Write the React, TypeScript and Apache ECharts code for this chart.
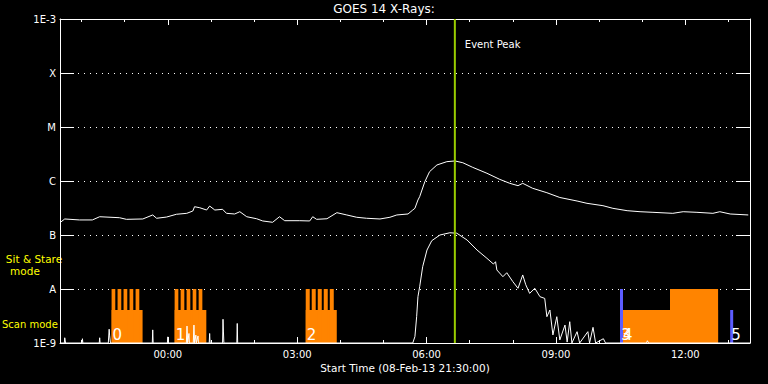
import React, { useEffect, useRef } from "react";
import * as echarts from "echarts";

// x values: hours relative to 09-Feb-13 00:00 (negative = 08-Feb)
const xMin = -2.5;
const xMax = 13.5;
const majorTicks = [0, 3, 6, 9, 12];
const minorTicks = [-2, -1, 0, 1, 2, 3, 4, 5, 6, 7, 8, 9, 10, 11, 12, 13];
const yLevelLabels: Record<number, string> = { [-9]: "1E-9", [-8]: "A", [-7]: "B", [-6]: "C", [-5]: "M", [-4]: "X", [-3]: "1E-3" };

// GOES 14 long channel (1-8 A), W/m^2
const longChannel: [number, number][] = [
  [-2.49, 1.72e-7], [-2.39, 1.98e-7], [-2.05, 1.9e-7], [-1.75, 1.9e-7], [-1.58, 2.18e-7],
  [-1.12, 2.09e-7], [-0.96, 1.95e-7], [-0.58, 1.98e-7], [-0.35, 2.35e-7], [-0.26, 2.04e-7],
  [-0.03, 2.15e-7], [0.2, 2.42e-7], [0.44, 2.52e-7], [0.58, 2.78e-7], [0.62, 3.34e-7],
  [0.74, 3.2e-7], [0.9, 2.9e-7], [0.97, 3.44e-7], [1.09, 2.9e-7], [1.27, 2.99e-7],
  [1.36, 2.52e-7], [1.55, 2.45e-7], [1.67, 2.7e-7], [1.83, 2.18e-7], [2.06, 2.0e-7],
  [2.2, 1.82e-7], [2.43, 1.72e-7], [2.59, 2.18e-7], [2.71, 1.84e-7], [3.06, 1.84e-7],
  [3.29, 1.82e-7], [3.36, 2.18e-7], [3.45, 1.95e-7], [3.69, 2.0e-7], [3.92, 2.59e-7],
  [4.15, 2.35e-7], [4.38, 2.13e-7], [4.61, 2.04e-7], [4.92, 1.98e-7], [5.15, 2.13e-7],
  [5.31, 2.35e-7], [5.57, 2.45e-7], [5.68, 2.9e-7], [5.73, 3.12e-7], [5.8, 4.45e-7],
  [5.84, 5.12e-7], [5.96, 9.7e-7], [6.07, 1.49e-6], [6.24, 1.98e-6], [6.47, 2.28e-6],
  [6.66, 2.35e-6], [6.84, 2.18e-6], [7.07, 1.79e-6], [7.4, 1.39e-6], [7.7, 1.07e-6],
  [7.93, 9.06e-7], [8.12, 8.19e-7], [8.23, 9.06e-7], [8.46, 7.33e-7], [8.79, 6.07e-7],
  [9.09, 4.95e-7], [9.49, 4.26e-7], [9.72, 3.86e-7], [10.09, 3.49e-7], [10.32, 3.12e-7],
  [10.65, 2.82e-7], [10.95, 2.7e-7], [11.25, 2.63e-7], [11.71, 2.52e-7], [11.95, 2.7e-7],
  [12.27, 2.63e-7], [12.64, 2.52e-7], [12.8, 2.7e-7], [13.04, 2.45e-7], [13.46, 2.35e-7],
];

// GOES 14 short channel (0.5-4 A), W/m^2
const shortChannel: [number, number][] = [
  [-2.5, 1e-9], [-2.4, 1e-9], [-2.39, 1.25e-9], [-2.37, 1e-9], [-1.99, 1e-9], [-1.98, 1.2e-9],
  [-1.97, 1e-9], [-1.59, 1e-9], [-1.58, 1.25e-9], [-1.57, 1e-9], [-1.38, 1e-9], [-1.36, 1.8e-9],
  [-1.35, 1.4e-9], [-1.33, 1e-9], [-0.36, 1e-9], [-0.35, 1.75e-9], [-0.34, 1e-9], [-0.01, 1e-9],
  [0.0, 1.3e-9], [0.01, 1e-9], [0.43, 1e-9], [0.445, 2.06e-9], [0.46, 1e-9], [0.49, 1.5e-9],
  [0.5, 1e-9], [0.59, 1e-9], [0.606, 2.15e-9], [0.62, 1e-9], [0.65, 1.4e-9], [0.66, 1e-9],
  [0.7, 1.35e-9], [0.71, 1e-9], [0.96, 1e-9], [0.97, 1.5e-9], [0.98, 1e-9], [1.27, 1e-9],
  [1.28, 2.75e-9], [1.29, 1.6e-9], [1.3, 1e-9], [1.6, 1e-9], [1.61, 2.3e-9], [1.62, 1e-9],
  [5.68, 1e-9], [5.73, 1.31e-9], [5.77, 3.07e-9], [5.8, 7.2e-9], [5.84, 1.1e-8], [5.91, 2.59e-8],
  [6.01, 5.27e-8], [6.12, 7.84e-8], [6.31, 1.0e-7], [6.54, 1.1e-7], [6.7, 1.08e-7], [6.94, 8.07e-8],
  [7.17, 5.27e-8], [7.4, 3.7e-8], [7.55, 2.9e-8], [7.6, 3.2e-8], [7.63, 2.25e-8], [7.77, 1.69e-8],
  [7.86, 2.0e-8], [8.0, 1.37e-8], [8.12, 1.03e-8], [8.23, 1.82e-8], [8.3, 1.2e-8], [8.39, 8.3e-9],
  [8.51, 1.03e-8], [8.63, 7.2e-9], [8.74, 6.7e-9], [8.79, 3.07e-9], [8.86, 4.08e-9], [8.93, 1.41e-9],
  [9.02, 3.07e-9], [9.09, 1.14e-9], [9.21, 2.15e-9], [9.26, 1.04e-9], [9.32, 2.48e-9], [9.37, 1e-9],
  [9.49, 1.62e-9], [9.55, 1e-9], [9.74, 1.62e-9], [9.78, 1e-9], [9.86, 1.95e-9], [9.92, 1e-9],
  [10.1, 1.2e-9], [10.15, 1e-9], [11.1, 1e-9], [11.12, 1.1e-9], [11.15, 1e-9], [13.5, 1e-9],
];

// Observing-mode timeline (hours)
const scanLevel = 4.08e-9;
const sitStareLevel = 1e-8;
const scanModeBlocks: [number, number][] = [
  [-1.304, -0.585], [0.158, 0.893], [3.198, 3.918], [10.555, 12.76],
];
const sitStareBlocks: [number, number][] = [
  [-1.304, -1.218], [-1.165, -1.079], [-1.026, -0.94], [-0.887, -0.801], [-0.747, -0.661],
  [0.158, 0.244], [0.297, 0.383], [0.436, 0.522], [0.576, 0.661], [0.715, 0.801],
  [3.198, 3.291], [3.337, 3.43], [3.477, 3.57], [3.616, 3.709], [3.756, 3.848],
  [11.645, 12.76],
];
const otherModeMarkers: [number, number, number][] = [
  [10.485, 10.555, sitStareLevel], [13.04, 13.11, scanLevel],
];
const blockLabels: [number, string][] = [
  [-1.304, "0"], [0.158, "1"], [3.198, "2"], [10.485, "3"], [10.53, "4"], [13.04, "5"],
];
const eventPeak = 6.656;

const FONT = "DejaVu Sans";

function fmtHour(v: number) {
  const h = ((Math.round(v) % 24) + 24) % 24;
  return (h < 10 ? "0" : "") + h + ":00";
}

export default function App() {
  const ref = useRef<HTMLDivElement>(null);
  useEffect(() => {
    if (!ref.current) return;
    const chart = echarts.init(ref.current, undefined, { renderer: "svg" });
    const white = "#ffffff";
    const baseX = {
      type: "value",
      min: xMin,
      max: xMax,
      gridIndex: 0,
      splitLine: { show: false },
    };
    const blockData = [
      ...scanModeBlocks.map((b) => [b[0], b[1], scanLevel, 0]),
      ...sitStareBlocks.map((b) => [b[0], b[1], sitStareLevel, 0]),
      ...otherModeMarkers.map((b) => [b[0], b[1], b[2], 1]),
    ];
    chart.setOption({
      animation: false,
      backgroundColor: "#000000",
      grid: { left: 60, right: 18, top: 19, bottom: 41 },
      xAxis: [
        {
          ...baseX,
          position: "bottom",
          axisLine: { show: true, onZero: false, lineStyle: { color: white, width: 1 } },
          axisTick: { show: true, inside: true, length: 6, customValues: majorTicks, lineStyle: { color: white } },
          axisLabel: { show: true, customValues: majorTicks, formatter: fmtHour, color: white, fontSize: 10, fontFamily: FONT, margin: 6 },
        },
        {
          ...baseX,
          position: "bottom",
          axisLine: { show: false, onZero: false },
          axisTick: { show: true, inside: true, length: 3, customValues: minorTicks, lineStyle: { color: white } },
          axisLabel: { show: false },
        },
        {
          ...baseX,
          position: "top",
          axisLine: { show: true, onZero: false, lineStyle: { color: white, width: 1 } },
          axisTick: { show: true, inside: true, length: 6, customValues: majorTicks, lineStyle: { color: white } },
          axisLabel: { show: false },
        },
        {
          ...baseX,
          position: "top",
          axisLine: { show: false, onZero: false },
          axisTick: { show: true, inside: true, length: 3, customValues: minorTicks, lineStyle: { color: white } },
          axisLabel: { show: false },
        },
      ],
      yAxis: [
        {
          type: "log",
          logBase: 10,
          min: 1e-9,
          max: 1e-3,
          position: "left",
          axisLine: { show: true, onZero: false, lineStyle: { color: white } },
          axisTick: { show: true, inside: true, length: 14, lineStyle: { color: white } },
          axisLabel: {
            color: white,
            fontSize: 10,
            fontFamily: FONT,
            margin: 4,
            formatter: (v: number) => yLevelLabels[Math.round(Math.log10(v))] ?? "",
          },
          splitLine: { show: true, lineStyle: { color: white, width: 1, type: [1, 5] } },
        },
        {
          type: "log",
          logBase: 10,
          min: 1e-9,
          max: 1e-3,
          position: "right",
          axisLine: { show: true, onZero: false, lineStyle: { color: white } },
          axisTick: { show: true, inside: true, length: 14, lineStyle: { color: white } },
          axisLabel: { show: false },
          splitLine: { show: false },
        },
      ],
      series: [
        {
          type: "custom",
          name: "modes",
          xAxisIndex: 0,
          yAxisIndex: 0,
          encode: { x: [0, 1], y: 2 },
          data: blockData,
          renderItem: (params: any, api: any) => {
            const p0 = api.coord([api.value(0), api.value(2)]);
            const p1 = api.coord([api.value(1), 1e-9]);
            const color = api.value(3) === 1 ? "#5c5cff" : "#ff8400";
            return {
              type: "rect",
              shape: { x: p0[0], y: p0[1], width: p1[0] - p0[0], height: p1[1] - p0[1] },
              style: { fill: color },
            };
          },
          z: 2,
        },
        {
          type: "line",
          name: "short",
          data: shortChannel,
          showSymbol: false,
          lineStyle: { color: white, width: 1 },
          itemStyle: { color: white },
          z: 3,
        },
        {
          type: "line",
          name: "long",
          data: longChannel,
          showSymbol: false,
          lineStyle: { color: white, width: 1 },
          itemStyle: { color: white },
          z: 3,
        },
        {
          type: "custom",
          name: "labels",
          encode: { x: 0 },
          data: blockLabels.map((b) => [b[0], b[1]]),
          renderItem: (params: any, api: any) => {
            const p = api.coord([api.value(0), 1e-9]);
            return {
              type: "text",
              x: p[0] + 1,
              y: p[1] - 1,
              style: {
                text: blockLabels[params.dataIndex][1],
                fill: white,
                fontSize: 15,
                fontFamily: FONT,
                verticalAlign: "bottom",
                align: "left",
              },
            };
          },
          z: 4,
        },
        {
          type: "custom",
          name: "peak",
          encode: { x: 0 },
          data: [[eventPeak]],
          renderItem: (params: any, api: any) => {
            const cs = params.coordSys;
            const x = api.coord([api.value(0), 1e-6])[0];
            return {
              type: "group",
              children: [
                {
                  type: "line",
                  shape: { x1: x, y1: cs.y, x2: x, y2: cs.y + cs.height },
                  style: { stroke: "#99cc00", lineWidth: 2 },
                },
                {
                  type: "text",
                  x: x + 10,
                  y: cs.y + 25,
                  style: { text: "Event Peak", fill: white, fontSize: 10, fontFamily: FONT, verticalAlign: "middle" },
                },
              ],
            };
          },
          z: 5,
        },
      ],
      graphic: [
        { type: "text", x: 384, y: 9, style: { text: "GOES 14 X-Rays:", fill: white, fontSize: 12, fontFamily: FONT, align: "center", verticalAlign: "middle" } },
        { type: "text", x: 405, y: 368, style: { text: "Start Time (08-Feb-13 21:30:00)", fill: white, fontSize: 10.5, fontFamily: FONT, align: "center", verticalAlign: "middle" } },
        { type: "text", x: 34, y: 259, style: { text: "Sit & Stare", fill: "#ffff00", fontSize: 10.5, fontFamily: FONT, align: "center", verticalAlign: "middle" } },
        { type: "text", x: 25, y: 271, style: { text: "mode", fill: "#ffff00", fontSize: 10.5, fontFamily: FONT, align: "center", verticalAlign: "middle" } },
        { type: "text", x: 2, y: 324, style: { text: "Scan mode", fill: "#ffff00", fontSize: 10, fontFamily: FONT, align: "left", verticalAlign: "middle" } },
      ],
    });
    return () => chart.dispose();
  }, []);
  return <div ref={ref} style={{ position: "absolute", left: 0, top: 0, width: 768, height: 384 }} />;
}
